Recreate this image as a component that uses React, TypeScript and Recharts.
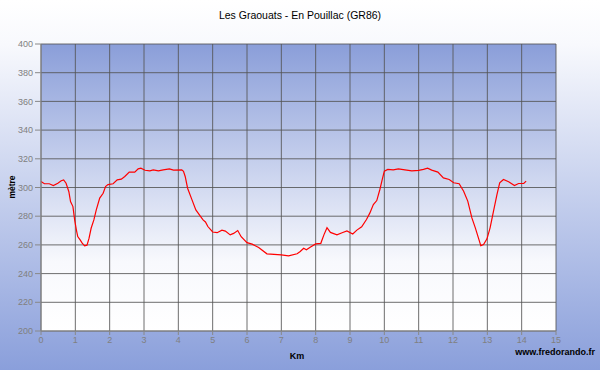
import React from 'react';
import { LineChart, Line, XAxis, YAxis, CartesianGrid } from 'recharts';

// distance (km) and altitude (m)
const kmValues = [
  0, 0.1, 0.24, 0.36, 0.49, 0.59, 0.66, 0.73, 0.81, 0.86, 0.93, 0.98, 1.03, 1.07, 1.14, 1.2,
  1.27, 1.34, 1.4, 1.46, 1.54, 1.61, 1.71, 1.81, 1.88, 1.95, 2.1, 2.22, 2.34, 2.44, 2.57, 2.73,
  2.83, 2.91, 3.03, 3.17, 3.27, 3.42, 3.56, 3.74, 3.86, 4.1, 4.15, 4.2, 4.27, 4.39, 4.51, 4.64,
  4.72, 4.79, 4.86, 5.0, 5.13, 5.27, 5.37, 5.51, 5.61, 5.73, 5.83, 6.0, 6.15, 6.34, 6.58, 7.0,
  7.21, 7.46, 7.55, 7.65, 7.73, 7.84, 8.0, 8.15, 8.24, 8.33, 8.43, 8.62, 8.77, 8.91, 9.08, 9.2,
  9.34, 9.48, 9.58, 9.68, 9.78, 9.87, 9.94, 10.0, 10.1, 10.26, 10.41, 10.6, 10.8, 11.0, 11.14,
  11.26, 11.38, 11.56, 11.72, 11.89, 12.02, 12.18, 12.31, 12.43, 12.55, 12.65, 12.74, 12.81,
  12.89, 12.99, 13.08, 13.18, 13.28, 13.36, 13.47, 13.62, 13.79, 13.91, 14.06, 14.13,
];
const altitudeValues = [
  304.2, 302.6, 302.6, 301.4, 303, 304.7, 305.3, 303, 297.2, 290.2, 286.7, 277.4, 270.5, 265.8, 263.5, 261.2,
  259.3, 259.8, 264.7, 271.6, 277.4, 284.4, 292.6, 296, 300.7, 302, 302.6, 305.3, 305.8, 307.7, 310.7, 310.7,
  313, 313.5, 312, 311.6, 312.3, 311.6, 312.3, 313, 312.1, 312.3, 311.2, 307.7, 299.5, 291.9, 284.4, 280,
  277.4, 276, 272.8, 269, 268.5, 270.3, 269.6, 267, 268, 270, 265.7, 261.6, 260.5, 258.2, 253.8, 253.1,
  252.4, 253.8, 255.4, 257.7, 256.6, 258.4, 260.7, 261.1, 267, 272, 268.7, 267, 268.5, 269.7, 267.6, 270.3,
  272.6, 277.7, 282.3, 288.1, 290.9, 298.6, 305.6, 311.4, 312.6, 312.3, 313, 312.3, 311.6, 311.9, 312.6,
  313.5, 312.1, 310.7, 306.7, 305.6, 303.3, 302.6, 297.4, 290.5, 278.8, 271.9, 264.9, 259.5,
  260.2, 264.2, 271.9, 283.5, 295.1, 303.3, 305.6, 304, 301.4, 302.8, 302.8, 304.4,
];
const xTicks = [0, 1, 2, 3, 4, 5, 6, 7, 8, 9, 10, 11, 12, 13, 14, 15];
const yTicks = [200, 220, 240, 260, 280, 300, 320, 340, 360, 380, 400];

const data = kmValues.map((km, i) => ({ km, alt: altitudeValues[i] }));

const font = '"Liberation Sans", Arial, sans-serif';

export default function App() {
  return (
    <div
      style={{
        position: 'absolute',
        left: 0,
        top: 0,
        width: 600,
        height: 370,
        fontFamily: font,
        background: 'linear-gradient(to bottom, #ffffff 0%, #f8f9fd 12%, #8a9fdb 100%)',
      }}
    >
      <div style={{ position: 'absolute', top: 9, width: 600, textAlign: 'center', fontSize: 10.5, color: '#000' }}>
        Les Graouats - En Pouillac (GR86)
      </div>
      <div
        style={{
          position: 'absolute',
          left: 12,
          top: 187,
          transform: 'translate(-50%, -50%) rotate(-90deg)',
          fontSize: 8.5,
          fontWeight: 'bold',
          color: '#000',
        }}
      >
        mètre
      </div>
      <div style={{ position: 'absolute', left: 297, top: 351, transform: 'translateX(-50%)', fontSize: 9, fontWeight: 'bold' }}>
        Km
      </div>
      <div style={{ position: 'absolute', right: 5, top: 347, fontSize: 9, fontWeight: 'bold' }}>
        www.fredorando.fr
      </div>
      <LineChart width={600} height={370} data={data} margin={{ top: 44, right: 44, bottom: 9, left: 0 }}>
        <defs>
          <linearGradient id="plotBg" x1="0" y1="0" x2="0" y2="1">
            <stop offset="0%" stopColor="#8a9ed9" />
            <stop offset="76%" stopColor="#f8f9fd" />
            <stop offset="100%" stopColor="#ffffff" />
          </linearGradient>
        </defs>
        <CartesianGrid fill="url(#plotBg)" fillOpacity={1} stroke="#555" strokeOpacity={0.85} />
        <XAxis
          dataKey="km"
          type="number"
          domain={[0, 15]}
          ticks={xTicks}
          interval={0}
          height={30}
          tickSize={4}
          stroke="#888"
          tick={{ fill: '#808080', fontSize: 9, fontFamily: font }}
        />
        <YAxis
          type="number"
          domain={[200, 400]}
          ticks={yTicks}
          interval={0}
          width={41}
          tickSize={6}
          stroke="#888"
          tick={{ fill: '#808080', fontSize: 9, fontFamily: font }}
        />
        <Line
          type="linear"
          dataKey="alt"
          stroke="#ff0000"
          strokeWidth={1.2}
          dot={false}
          isAnimationActive={false}
        />
      </LineChart>
    </div>
  );
}
